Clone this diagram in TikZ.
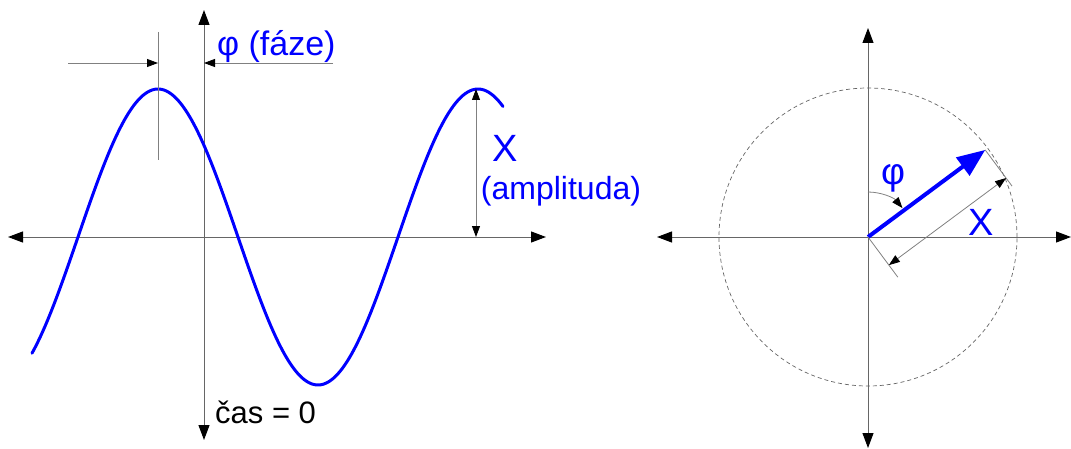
\documentclass[tikz,border=0pt]{standalone}
\usepackage{fontspec}
\setmainfont{Liberation Sans}
\usetikzlibrary{arrows.meta,calc}
\begin{document}
\begin{tikzpicture}[x=1pt,y=1pt,
  axisline/.style={draw=black!60, line width=1pt,
    {Triangle[length=15pt,width=11pt,color=black]}-{Triangle[length=15pt,width=11pt,color=black]}},
  dimline/.style={draw=black!50, line width=0.8pt},
  dimtip/.style={-{Triangle[length=11pt,width=8pt,color=black]}},
  dimboth/.style={{Triangle[length=11pt,width=8pt,color=black]}-{Triangle[length=11pt,width=8pt,color=black]}},
  wave/.style={draw=blue, line width=3pt, line join=round, line cap=round},
  lbl/.style={text=blue, font=\fontsize{34}{38}\selectfont, inner sep=0pt},
  bigx/.style={text=blue, font=\fontsize{38}{42}\selectfont, inner sep=0pt},
]
\useasboundingbox (0,0) rectangle (1071,448);
% ---------- left: time plot ----------
\coordinate (o1) at (204,211);
\coordinate (L1) at (8,211);
\coordinate (R1) at (546,211);
\coordinate (T1) at (204,438);
\coordinate (B1) at (204,8);
\draw[axisline] (L1) -- (R1);
\draw[axisline] (B1) -- (T1);
\draw[wave] plot[domain=32:503, samples=200, smooth] (\x, {211+148*cos((\x-158)*1.125)});
% phase dimension
\coordinate (tickT) at (158,416);
\coordinate (tickB) at (158,288);
\coordinate (pL) at (68,385);
\coordinate (pk) at (158,385);
\coordinate (pz) at (204,385);
\coordinate (pR) at (333,385);
\draw[dimline] (tickT) -- (tickB);
\draw[dimline, dimtip] (pL) -- (pk);
\draw[dimline, dimtip] (pR) -- (pz);
\node[lbl, anchor=west] (phase) at (217,401) {φ (fáze)};
% amplitude
\coordinate (a1) at (476,359);
\coordinate (a2) at (476,211);
\draw[dimline, dimboth] (a1) -- (a2);
\node[bigx] (X1) at (505,300) {X};
\node[lbl, font=\fontsize{32}{36}\selectfont] (amp) at (561,257) {(amplituda)};
\node[anchor=west, font=\fontsize{31}{35}\selectfont, inner sep=0pt] (cas) at (215,36) {čas = 0};
% ---------- right: phasor ----------
\coordinate (o2) at (868,211);
\coordinate (L2) at (657,211);
\coordinate (R2) at (1071,211);
\coordinate (T2) at (868,420);
\coordinate (B2) at (868,0);
\draw[axisline] (L2) -- (R2);
\draw[axisline] (B2) -- (T2);
\draw[draw=black!60, line width=0.7pt, dash pattern=on 4pt off 3pt] (o2) circle[radius=149];
\coordinate (tip) at ([shift={(36.6:146)}]o2);
\draw[blue, line width=4pt, -{Triangle[length=28pt,width=22pt]}] (o2) -- (tip);
% phi arc
\draw[dimline, dimtip] ([shift={(90:45)}]o2) arc[start angle=90, end angle=40, radius=45];
\node[lbl, font=\fontsize{37}{40}\selectfont] (phi2) at (893,270) {φ};
% X dimension
\coordinate (e1) at ([shift={(-53.4:50)}]o2);
\coordinate (e2) at ([shift={(-53.4:45)}]tip);
\draw[dimline] (o2) -- (e1);
\draw[dimline] (tip) -- (e2);
\coordinate (d1) at ([shift={(-53.4:35)}]o2);
\coordinate (d2) at ([shift={(-53.4:35)}]tip);
\draw[dimline, dimboth] (d1) -- (d2);
\node[bigx] (X2) at (981,226) {X};
\end{tikzpicture}
\end{document}
